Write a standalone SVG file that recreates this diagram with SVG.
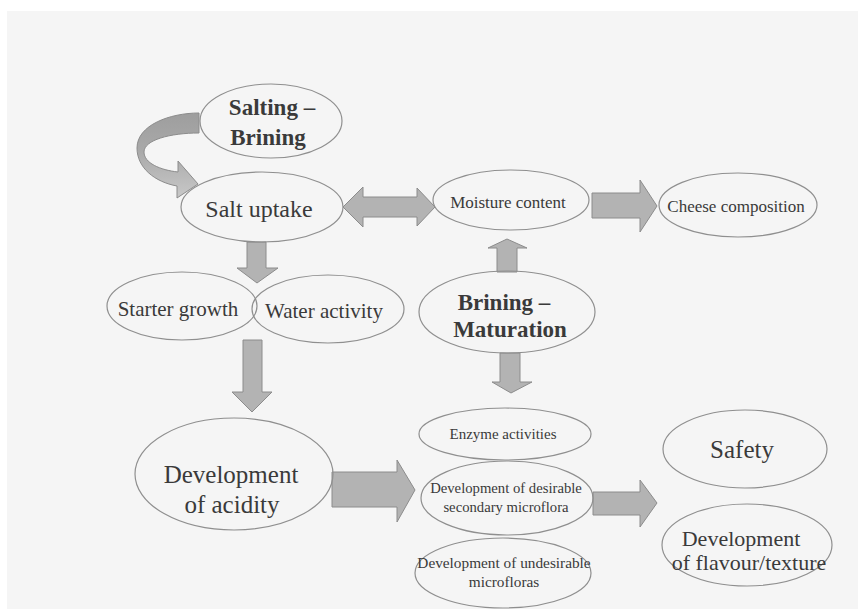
<svg xmlns="http://www.w3.org/2000/svg" width="858" height="609" viewBox="0 0 858 609">
<defs>
<linearGradient id="curveFill" gradientUnits="userSpaceOnUse" x1="0" y1="113" x2="0" y2="198">
<stop offset="0" stop-color="#9e9e9e"/>
<stop offset="0.45" stop-color="#a9a9a9"/>
<stop offset="1" stop-color="#c8c8c8"/>
</linearGradient>
</defs>
<style>
.node ellipse{fill:none;stroke:#8f8f8f;stroke-width:1.2}
.t{font-family:"Liberation Serif","Times New Roman",serif;fill:#3a3a3a;text-anchor:middle}
.b{font-weight:bold}
.arrow{fill:#b3b3b3;stroke:#8c8c8c;stroke-width:1;stroke-linejoin:miter}
</style>
<rect x="0" y="0" width="858" height="609" fill="#ffffff"/>
<rect x="7" y="11" width="851" height="598" fill="#f5f5f5"/>

<g id="connectors">
<path class="arrow" style="fill:url(#curveFill)" d="M199,113 C170,113 137,125 137,148 C137,168 155,182 177,186 L177,198 L198,184 L178,161 L178,172 C160,170 144,163 144,152 C144,140 170,133 199,133 Z"/>
<path class="arrow" d="M343,207 L363,187 L363,197 L417,197 L417,188 L435,207 L417,226 L417,217 L363,217 L363,227 Z"/>
<path class="arrow" d="M592,193 L640,193 L640,180 L657,206 L640,232 L640,218 L592,218 Z"/>
<path class="arrow" d="M247,242 L266,242 L266,268 L278,268 L257,283 L237,268 L247,268 Z"/>
<path class="arrow" d="M243,340 L262,340 L262,392 L272,392 L252,412 L232,392 L243,392 Z"/>
<path class="arrow" d="M497,272 L517,272 L517,248 L527,248 L507,239 L488,248 L497,248 Z"/>
<path class="arrow" d="M500,353 L520,353 L520,382 L532,382 L511,393 L492,382 L500,382 Z"/>
<path class="arrow" d="M332,472 L397,472 L397,460 L415,490 L397,522 L397,507 L332,507 Z"/>
<path class="arrow" d="M593,492 L640,492 L640,480 L657,503 L640,527 L640,515 L593,515 Z"/>
</g>

<g id="salting-brining" class="node">
<ellipse cx="271" cy="121" rx="71" ry="37"/>
<text class="t b" x="272" y="115" font-size="23">Salting –</text>
<text class="t b" x="268" y="145" font-size="23">Brining</text>
</g>
<g id="salt-uptake" class="node">
<ellipse cx="262" cy="207" rx="81" ry="35"/>
<text class="t" x="259" y="217" font-size="24">Salt uptake</text>
</g>
<g id="moisture-content" class="node">
<ellipse cx="511" cy="200" rx="78" ry="30"/>
<text class="t" x="508" y="208" font-size="17">Moisture content</text>
</g>
<g id="cheese-composition" class="node">
<ellipse cx="738" cy="205" rx="79" ry="32"/>
<text class="t" x="736" y="212" font-size="17">Cheese composition</text>
</g>
<g id="starter-growth" class="node">
<ellipse cx="182" cy="306" rx="75" ry="34"/>
<text class="t" x="178" y="316" font-size="21">Starter growth</text>
</g>
<g id="water-activity" class="node">
<ellipse cx="328" cy="309" rx="76" ry="34"/>
<text class="t" x="324" y="318" font-size="21">Water activity</text>
</g>
<g id="brining-maturation" class="node">
<ellipse cx="507" cy="312" rx="88" ry="41"/>
<text class="t b" x="504" y="310" font-size="23">Brining –</text>
<text class="t b" x="510" y="337" font-size="23">Maturation</text>
</g>
<g id="development-of-acidity" class="node">
<ellipse cx="234" cy="474" rx="99" ry="56"/>
<text class="t" x="231" y="483" font-size="25">Development</text>
<text class="t" x="232" y="513" font-size="25">of acidity</text>
</g>
<g id="enzyme-activities" class="node">
<ellipse cx="505" cy="434" rx="86" ry="26"/>
<text class="t" x="503" y="439" font-size="15">Enzyme activities</text>
</g>
<g id="desirable-microflora" class="node">
<ellipse cx="507" cy="498" rx="86" ry="37"/>
<text class="t" x="506" y="493" font-size="14.7">Development of desirable</text>
<text class="t" x="506" y="512" font-size="14.7">secondary microflora</text>
</g>
<g id="undesirable-microfloras" class="node">
<ellipse cx="503" cy="573" rx="88" ry="35"/>
<text class="t" x="504" y="568" font-size="15.3">Development of undesirable</text>
<text class="t" x="504" y="587" font-size="15.3">microfloras</text>
</g>
<g id="safety" class="node">
<ellipse cx="745" cy="449" rx="82" ry="39"/>
<text class="t" x="742" y="458" font-size="25">Safety</text>
</g>
<g id="flavour-texture" class="node">
<ellipse cx="747" cy="545" rx="85" ry="41"/>
<text class="t" x="741" y="546" font-size="22">Development</text>
<text class="t" x="749" y="570" font-size="22">of flavour/texture</text>
</g>
</svg>
